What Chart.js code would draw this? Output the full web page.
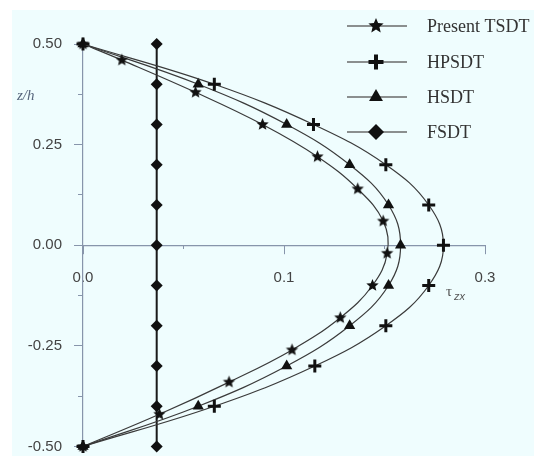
<!DOCTYPE html>
<html>
<head>
<meta charset="utf-8">
<script src="https://cdn.jsdelivr.net/npm/chart.js@4.4.1/dist/chart.umd.min.js"></script>
<style>
  html, body { margin: 0; background: #fff; }
  #wrap { width: 534px; height: 456px; }
</style>
</head>
<body>
<div id="wrap"><canvas id="chart"></canvas></div>
<script>
// values (z/h on the vertical axis, tau_zx horizontal)
const seriesNames = ['Present TSDT', 'HPSDT', 'HSDT', 'FSDT'];
const zTSDT = [0.5, 0.46, 0.38, 0.30, 0.22, 0.14, 0.06, -0.02, -0.10, -0.18, -0.26, -0.34, -0.42, -0.5];
const tauTSDT = [0, 0.029, 0.084, 0.134, 0.175, 0.205, 0.224, 0.227, 0.216, 0.192, 0.156, 0.109, 0.057, 0];
const zGrid = [0.5, 0.4, 0.3, 0.2, 0.1, 0, -0.1, -0.2, -0.3, -0.4, -0.5];
const tauHPSDT = [0, 0.098, 0.172, 0.226, 0.258, 0.269, 0.258, 0.226, 0.173, 0.098, 0];
const tauHSDT = [0, 0.086, 0.152, 0.199, 0.228, 0.237, 0.228, 0.199, 0.152, 0.086, 0];
const tauFSDT = [0.055, 0.055, 0.055, 0.055, 0.055, 0.055, 0.055, 0.055, 0.055, 0.055, 0.055];
const xTickLabels = ['0.0', '0.1', '0.3'];
const yTickLabels = ['-0.50', '-0.25', '0.00', '0.25', '0.50'];

const axisGrey = '#8795ab';
const ink = '#111';

function starImage(r) {
  const s = Math.ceil(r * 2) + 2;
  const c = document.createElement('canvas');
  c.width = s; c.height = s;
  const g = c.getContext('2d');
  g.beginPath();
  for (let i = 0; i < 10; i++) {
    const rr = i % 2 ? r * 0.45 : r;
    const a = -Math.PI / 2 + i * Math.PI / 5;
    g.lineTo(s / 2 + rr * Math.cos(a), s / 2 + rr * Math.sin(a));
  }
  g.closePath();
  g.fillStyle = ink;
  g.fill();
  return c;
}
const starSmall = starImage(6.5);
const starBig = starImage(8);

const pts = (zs, taus) => zs.map((z, i) => ({ x: taus[i], y: z }));

const lineBase = {
  showLine: true,
  borderColor: '#3a3a3a',
  borderWidth: 1.2,
  tension: 0.4,
  pointBackgroundColor: ink,
  pointBorderColor: ink,
  clip: false,
};

const bgPlugin = {
  id: 'bg',
  beforeDraw(chart) {
    const { ctx, width, height } = chart;
    ctx.save();
    ctx.fillStyle = '#ffffff';
    ctx.fillRect(0, 0, width, height);
    ctx.fillStyle = '#effdfe';
    ctx.fillRect(12, 10, width - 12, height - 10);
    ctx.restore();
  }
};

const legendRows = [
  { pointStyle: starBig, radius: 8, borderWidth: 0 },
  { pointStyle: 'cross', radius: 7.5, borderWidth: 4 },
  { pointStyle: 'triangle', radius: 8, borderWidth: 0 },
  { pointStyle: 'rectRot', radius: 8, borderWidth: 0 },
];
const legendY = [26, 62, 97, 132];

const labelsPlugin = {
  id: 'labels',
  afterDraw(chart) {
    const { ctx } = chart;
    ctx.save();
    // legend
    legendRows.forEach((row, i) => {
      const y = legendY[i];
      ctx.strokeStyle = '#6a6a6a';
      ctx.lineWidth = 1.3;
      ctx.beginPath();
      ctx.moveTo(347, y);
      ctx.lineTo(407, y);
      ctx.stroke();
      ctx.fillStyle = ink;
      ctx.strokeStyle = ink;
      ctx.lineWidth = row.borderWidth || 1;
      Chart.helpers.drawPoint(ctx, { pointStyle: row.pointStyle, radius: row.radius, rotation: 0, borderWidth: row.borderWidth }, 376, y);
      ctx.fillStyle = '#333';
      ctx.font = '18px "Liberation Serif", "Times New Roman", serif';
      ctx.textBaseline = 'middle';
      ctx.textAlign = 'left';
      ctx.fillText(seriesNames[i], 427, y + 1);
    });
    // axis titles
    ctx.fillStyle = '#56657c';
    ctx.font = 'italic 15px "Liberation Serif", serif';
    ctx.textBaseline = 'middle';
    ctx.fillText('z/h', 17, 96);
    ctx.fillStyle = '#555';
    ctx.font = '15px "Liberation Serif", serif';
    ctx.fillText('τ', 446, 292);
    ctx.font = 'italic 11px "Liberation Sans", sans-serif';
    ctx.fillText('zx', 454, 297);
    ctx.restore();
  }
};

new Chart(document.getElementById('chart'), {
  type: 'scatter',
  data: {
    datasets: [
      Object.assign({}, lineBase, {
        label: seriesNames[0],
        data: pts(zTSDT, tauTSDT),
        pointStyle: starSmall,
        pointRadius: 6.5,
      }),
      Object.assign({}, lineBase, {
        label: seriesNames[1],
        data: pts(zGrid, tauHPSDT),
        pointStyle: 'cross',
        pointRadius: 6.5,
        pointBorderWidth: 3,
      }),
      Object.assign({}, lineBase, {
        label: seriesNames[2],
        data: pts(zGrid, tauHSDT),
        pointStyle: 'triangle',
        pointRadius: 6.5,
        pointBorderWidth: 0,
      }),
      Object.assign({}, lineBase, {
        label: seriesNames[3],
        data: pts(zGrid, tauFSDT),
        tension: 0,
        borderColor: '#1a1a1a',
        borderWidth: 2,
        pointStyle: 'rectRot',
        pointRadius: 6,
        pointBorderWidth: 0,
      }),
    ]
  },
  options: {
    responsive: true,
    maintainAspectRatio: false,
    animation: false,
    layout: { padding: { top: 44, right: 49, bottom: 6, left: 0 } },
    plugins: { legend: { display: false }, tooltip: { enabled: false } },
    scales: {
      x: {
        type: 'linear',
        position: { y: 0 },
        min: 0, max: 0.3,
        afterFit: s => { s.height = 0; },
        ticks: {
          stepSize: 0.15,
          autoSkip: false,
          maxRotation: 0,
          padding: 16,
          color: '#444',
          font: { family: '"Liberation Sans", Arial, sans-serif', size: 15 },
          callback: (v, i) => xTickLabels[i],
        },
        grid: { drawOnChartArea: false, drawTicks: true, tickLength: 8, color: axisGrey },
        border: { display: true, color: axisGrey, width: 1.2 },
      },
      x2: {
        type: 'linear',
        axis: 'x',
        position: { y: 0 },
        min: 0, max: 0.3,
        afterFit: s => { s.height = 0; },
        ticks: { stepSize: 0.075, autoSkip: false, maxRotation: 0, callback: () => '' },
        grid: { drawOnChartArea: false, drawTicks: true, tickLength: 4, color: axisGrey },
        border: { display: false },
      },
      y: {
        type: 'linear',
        position: 'left',
        min: -0.5, max: 0.5,
        afterFit: s => { s.width = 83; s.paddingTop = 0; s.paddingBottom = 0; },
        ticks: {
          stepSize: 0.25,
          padding: 12,
          color: '#444',
          font: { family: '"Liberation Sans", Arial, sans-serif', size: 15, lineHeight: 1 },
          callback: (v, i) => yTickLabels[i],
        },
        grid: { drawOnChartArea: false, drawTicks: true, tickLength: 9, color: axisGrey },
        border: { display: true, color: axisGrey, width: 1.2 },
      },
      y2: {
        type: 'linear',
        axis: 'y',
        position: { x: 0 },
        min: -0.5, max: 0.5,
        afterFit: s => { s.width = 0; s.paddingTop = 0; s.paddingBottom = 0; },
        ticks: { stepSize: 0.125, callback: () => '' },
        grid: { drawOnChartArea: false, drawTicks: true, tickLength: 5, color: axisGrey },
        border: { display: false },
      },
    }
  },
  plugins: [bgPlugin, labelsPlugin]
});
</script>
</body>
</html>
